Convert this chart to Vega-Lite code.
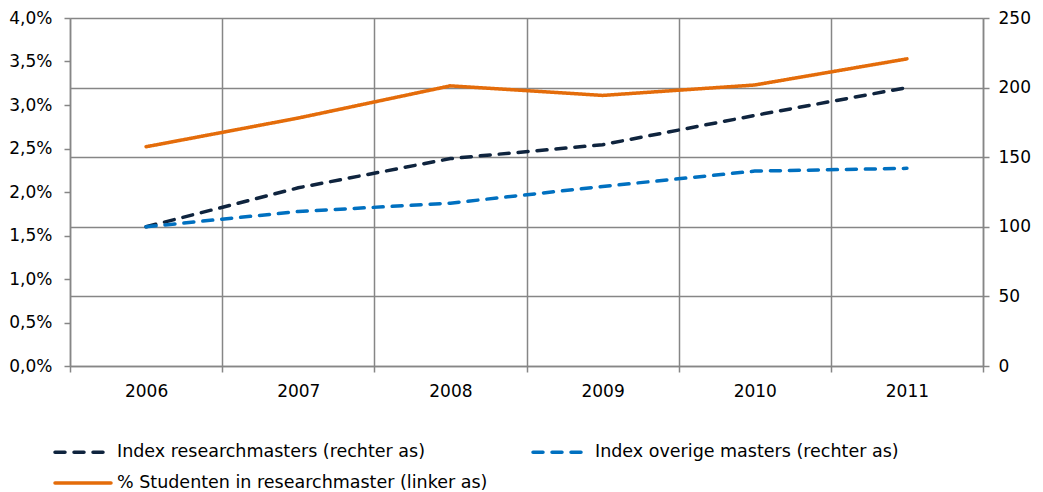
{
  "$schema": "https://vega.github.io/schema/vega-lite/v6.json",
  "width": 913,
  "height": 348,
  "autosize": {"type": "none"},
  "padding": {"left": 70, "top": 18, "right": 60, "bottom": 126},
  "background": "white",
  "config": {
    "locale": {"number": {"decimal": ",", "thousands": ".", "grouping": [3], "currency": ["€", ""]}},
    "font": "DejaVu Sans",
    "view": {"stroke": null},
    "axis": {
      "domainColor": "#868686", "tickColor": "#868686", "gridColor": "#868686",
      "labelColor": "#000000", "labelFontSize": 17, "labelFont": "DejaVu Sans",
      "domainWidth": 1.5, "tickWidth": 1.5, "gridWidth": 1.5, "title": null
    },
    "legend": {
      "orient": "none", "legendX": 1, "legendY": 422, "columns": 2, "columnPadding": 38,
      "symbolType": "M-2.8,0H2.8", "symbolSize": 400, "symbolStrokeWidth": 3.5,
      "labelFontSize": 17.5, "labelFont": "DejaVu Sans", "labelColor": "#000000", "labelOffset": 22,
      "rowPadding": 10, "title": null, "labelLimit": 800, "padding": 0
    }
  },
  "data": {
    "values": [
      {"year": "2006", "series": "Index researchmasters (rechter as)", "value": 100},
      {"year": "2007", "series": "Index researchmasters (rechter as)", "value": 128},
      {"year": "2008", "series": "Index researchmasters (rechter as)", "value": 149},
      {"year": "2009", "series": "Index researchmasters (rechter as)", "value": 159},
      {"year": "2010", "series": "Index researchmasters (rechter as)", "value": 180},
      {"year": "2011", "series": "Index researchmasters (rechter as)", "value": 200},
      {"year": "2006", "series": "Index overige masters (rechter as)", "value": 100},
      {"year": "2007", "series": "Index overige masters (rechter as)", "value": 111},
      {"year": "2008", "series": "Index overige masters (rechter as)", "value": 117},
      {"year": "2009", "series": "Index overige masters (rechter as)", "value": 129},
      {"year": "2010", "series": "Index overige masters (rechter as)", "value": 140},
      {"year": "2011", "series": "Index overige masters (rechter as)", "value": 142},
      {"year": "2006", "series": "% Studenten in researchmaster (linker as)", "value": 0.0252},
      {"year": "2007", "series": "% Studenten in researchmaster (linker as)", "value": 0.0285},
      {"year": "2008", "series": "% Studenten in researchmaster (linker as)", "value": 0.0322},
      {"year": "2009", "series": "% Studenten in researchmaster (linker as)", "value": 0.0311},
      {"year": "2010", "series": "% Studenten in researchmaster (linker as)", "value": 0.0323},
      {"year": "2011", "series": "% Studenten in researchmaster (linker as)", "value": 0.0353}
    ]
  },
  "encoding": {
    "x": {
      "field": "year", "type": "ordinal",
      "scale": {"type": "band", "paddingInner": 0, "paddingOuter": 0},
      "axis": {"labelAngle": 0, "tickBand": "extent", "grid": true, "tickSize": 6, "labelPadding": 11, "title": null}
    },
    "color": {
      "field": "series", "type": "nominal",
      "scale": {
        "domain": ["Index researchmasters (rechter as)", "% Studenten in researchmaster (linker as)", "Index overige masters (rechter as)"],
        "range": ["#0F243E", "#E46C0A", "#0070C0"]
      },
      "sort": null,
      "legend": {"title": null, "encode": {"symbols": {"update": {"strokeCap": {"value": "round"}}}}}
    },
    "strokeDash": {
      "field": "series", "type": "nominal",
      "scale": {
        "domain": ["Index researchmasters (rechter as)", "% Studenten in researchmaster (linker as)", "Index overige masters (rechter as)"],
        "range": [[10, 9], [1, 0], [10, 9]]
      },
      "sort": null,
      "legend": {"title": null, "encode": {"symbols": {"update": {"strokeCap": {"value": "round"}}}}}
    }
  },
  "layer": [
    {
      "transform": [{"filter": "datum.series !== '% Studenten in researchmaster (linker as)'"}],
      "mark": {"type": "line", "strokeWidth": 3.5, "strokeCap": "round"},
      "encoding": {
        "y": {
          "field": "value", "type": "quantitative",
          "scale": {"domain": [0, 250], "nice": false},
          "axis": {"orient": "right", "values": [0, 50, 100, 150, 200, 250], "grid": true, "tickSize": 6, "labelPadding": 9, "title": null}
        }
      }
    },
    {
      "transform": [{"filter": "datum.series === '% Studenten in researchmaster (linker as)'"}],
      "mark": {"type": "line", "strokeWidth": 3.5, "strokeCap": "round"},
      "encoding": {
        "y": {
          "field": "value", "type": "quantitative",
          "scale": {"domain": [0, 0.04], "nice": false},
          "axis": {"orient": "left", "format": ".1%", "values": [0, 0.005, 0.01, 0.015, 0.02, 0.025, 0.03, 0.035, 0.04], "grid": false, "tickSize": 6, "labelPadding": 12, "title": null}
        }
      }
    }
  ],
  "resolve": {"scale": {"y": "independent"}}
}
